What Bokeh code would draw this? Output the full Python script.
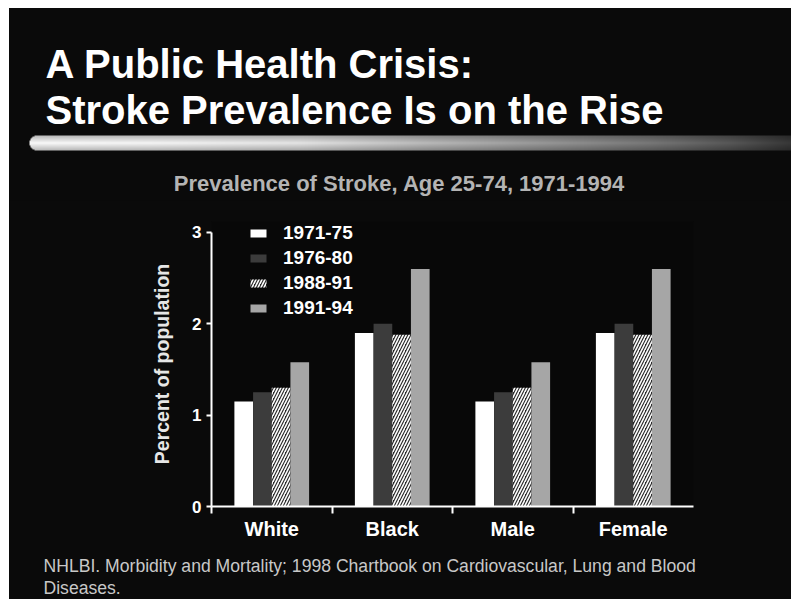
import numpy as np
from bokeh.plotting import figure
from bokeh.layouts import column, row
from bokeh.models import Range1d, FixedTicker, Spacer
from bokeh.core.properties import value
from bokeh.embed import file_html
from bokeh.resources import INLINE

# ---------------- data ----------------
CATEGORIES = ["White", "Black", "Male", "Female"]
PERIODS = ["1971-75", "1976-80", "1988-91", "1991-94"]
V_1971_75 = [1.15, 1.90, 1.15, 1.90]
V_1976_80 = [1.25, 2.00, 1.25, 2.00]
V_1988_91 = [1.30, 1.88, 1.30, 1.88]
V_1991_94 = [1.58, 2.60, 1.58, 2.60]
Y_TICKS = [0, 1, 2, 3]

TITLE_1 = "A Public Health Crisis:"
TITLE_2 = "Stroke Prevalence Is on the Rise"
SUBTITLE = "Prevalence of Stroke, Age 25-74, 1971-1994"
Y_LABEL = "Percent of population"
NOTE_1 = "NHLBI. Morbidity and Mortality; 1998 Chartbook on Cardiovascular, Lung and Blood"
NOTE_2 = "Diseases."

# ---------------- style ----------------
BG = "#0a0a0a"
FRAME_BG = "#080808"
FONT_NAME = "Liberation Sans"
FONT = value(FONT_NAME)
W = 782


def no_align(fig):
    try:
        fig.frame_align = False
    except Exception:
        pass


# ---------------- header ----------------
HH = 192
header = figure(width=W, height=HH, x_range=Range1d(0, W), y_range=Range1d(HH, 0),
                toolbar_location=None, output_backend="svg",
                x_axis_location=None, y_axis_location=None,
                min_border=0, background_fill_color=BG, border_fill_color=BG,
                outline_line_color=None)
header.grid.visible = False
no_align(header)

# gradient rule (decoration)
gw, gh = 762, 15
stops_x = [0, 120, 270, 400, 520, 620, 700, 762]
stops_v = [250, 245, 228, 185, 150, 120, 88, 55]
col_v = np.interp(np.arange(gw), stops_x, stops_v)
img = np.zeros((gh, gw), dtype=np.uint32)
view = img.view(dtype=np.uint8).reshape((gh, gw, 4))
rows = np.arange(gh)
shade = 1.0 - 0.25 * np.abs(rows - (gh - 1) / 2) / ((gh - 1) / 2)
for r_ in range(gh):
    v = np.clip(col_v * shade[r_], 0, 255).astype(np.uint8)
    view[r_, :, 0] = v
    view[r_, :, 1] = v
    view[r_, :, 2] = v
    view[r_, :, 3] = 255
rad = gh / 2
for r_ in range(gh):
    for c_ in range(int(rad) + 1):
        if (c_ + 0.5 - rad) ** 2 + (r_ + 0.5 - rad) ** 2 > rad ** 2:
            view[r_, c_, 3] = 0
header.image_rgba(image=[img], x=20, y=127, dw=gw, dh=gh)

header.text(x=[36], y=[55], text=[TITLE_1], text_font=FONT, text_font_style="bold",
            text_font_size="40px", text_color="white", text_baseline="alphabetic")
header.text(x=[36], y=[101], text=[TITLE_2], text_font=FONT, text_font_style="bold",
            text_font_size="40px", text_color="white", text_baseline="alphabetic")
header.text(x=[390], y=[175], text=[SUBTITLE], text_font=FONT, text_font_style="bold",
            text_font_size="22px", text_color="#b4b4b4", text_baseline="alphabetic",
            text_align="center")

# ---------------- chart ----------------
Y_TOP = 3.12
p = figure(width=W, height=345, x_range=Range1d(0, len(CATEGORIES)), y_range=Range1d(0, Y_TOP),
           toolbar_location=None, output_backend="svg",
           min_border_left=202, min_border_right=98, min_border_top=21, min_border_bottom=39,
           background_fill_color=FRAME_BG, border_fill_color=BG, outline_line_color=None)
p.grid.visible = False
no_align(p)

BAR_W = 0.155
OFFSETS = [-1.5 * BAR_W, -0.5 * BAR_W, 0.5 * BAR_W, 1.5 * BAR_W]
series = [
    (PERIODS[0], V_1971_75, "#ffffff", None),
    (PERIODS[1], V_1976_80, "#3c3c3c", None),
    (PERIODS[2], V_1988_91, "#2a2a2a", "/"),
    (PERIODS[3], V_1991_94, "#a6a6a6", None),
]
for k, (name, vals, color, hatch) in enumerate(series):
    xs = [j + 0.5 + OFFSETS[k] for j in range(len(CATEGORIES))]
    kw = {}
    if hatch:
        kw = dict(hatch_pattern=hatch, hatch_color="white", hatch_scale=6, hatch_weight=1.6)
    p.vbar(x=xs, top=vals, bottom=0, width=BAR_W, fill_color=color, line_color=None,
           legend_label=name, **kw)

leg = p.legend[0]
leg.location = (37, 187)
leg.background_fill_alpha = 0
leg.border_line_color = None
leg.label_text_color = "white"
leg.label_text_font = FONT_NAME
leg.label_text_font_style = "bold"
leg.label_text_font_size = "19px"
leg.glyph_width = 20
leg.glyph_height = 10
leg.label_height = 18
leg.spacing = 3
leg.padding = 0
leg.margin = 0
leg.label_standoff = 15

ya = p.yaxis[0]
ya.ticker = FixedTicker(ticks=Y_TICKS)
ya.bounds = (0, 3)
ya.axis_line_color = "white"
ya.axis_line_width = 2
ya.major_tick_line_color = "white"
ya.major_tick_line_width = 2
ya.major_tick_out = 5
ya.major_tick_in = 0
ya.minor_tick_line_color = None
ya.major_label_text_color = "white"
ya.major_label_text_font = FONT_NAME
ya.major_label_text_font_style = "bold"
ya.major_label_text_font_size = "17px"
ya.major_label_standoff = 5
ya.axis_label = Y_LABEL
ya.axis_label_text_color = "#e6e6e6"
ya.axis_label_text_font = FONT_NAME
ya.axis_label_text_font_style = "bold"
ya.axis_label_text_font_size = "19.5px"
ya.axis_label_standoff = 16

xa = p.xaxis[0]
xa.ticker = FixedTicker(ticks=[i + 0.5 for i in range(len(CATEGORIES))],
                        minor_ticks=list(range(len(CATEGORIES))))
xa.major_label_overrides = {i + 0.5: c for i, c in enumerate(CATEGORIES)}
xa.axis_line_color = "white"
xa.axis_line_width = 2
xa.major_tick_line_color = None
xa.major_tick_out = 0
xa.major_tick_in = 0
xa.minor_tick_line_color = "white"
xa.minor_tick_line_width = 2
xa.minor_tick_out = 7
xa.minor_tick_in = 0
xa.major_label_text_color = "white"
xa.major_label_text_font = FONT_NAME
xa.major_label_text_font_style = "bold"
xa.major_label_text_font_size = "20px"
xa.major_label_standoff = 4

# ---------------- footnote ----------------
FH = 54
foot = figure(width=W, height=FH, x_range=Range1d(0, W), y_range=Range1d(FH, 0),
              toolbar_location=None, output_backend="svg",
              x_axis_location=None, y_axis_location=None,
              min_border=0, background_fill_color=BG, border_fill_color=BG,
              outline_line_color=None)
foot.grid.visible = False
no_align(foot)
foot.text(x=[34, 34], y=[20, 42], text=[NOTE_1, NOTE_2], text_font=FONT,
          text_font_size="17.6px", text_color="#c8c8c8", text_baseline="alphabetic")

inner = column(header, p, foot, styles={"background-color": BG})
layout = column(Spacer(height=8), row(Spacer(width=9), inner))

open("out.html", "w").write(file_html(layout, INLINE))
